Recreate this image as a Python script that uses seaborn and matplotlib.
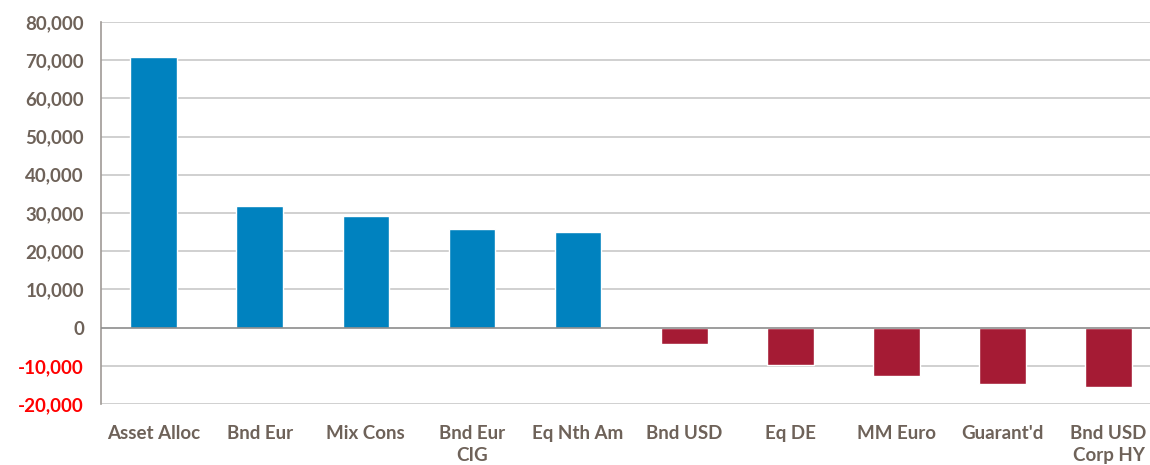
import matplotlib
matplotlib.use("Agg")
import matplotlib.pyplot as plt
import seaborn as sns
import pandas as pd
from matplotlib.ticker import FuncFormatter

categories = ["Asset Alloc", "Bnd Eur", "Mix Cons", "Bnd Eur\nCIG", "Eq Nth Am",
              "Bnd USD", "Eq DE", "MM Euro", "Guarant'd", "Bnd USD\nCorp HY"]
values = [70700, 31700, 29300, 25900, 25100, -4200, -9900, -12600, -14700, -15400]
yticks = [-20000, -10000, 0, 10000, 20000, 30000, 40000, 50000, 60000, 70000, 80000]

POS = "#0082bf"
NEG = "#a51b34"
TXT = "#6e6259"

sns.set_theme(style="white")
plt.rcParams["font.family"] = ["Lato", "DejaVu Sans"]

df = pd.DataFrame({"cat": categories, "val": values})
df["sign"] = ["pos" if v >= 0 else "neg" for v in values]

fig = plt.figure(figsize=(11.5, 4.65), dpi=100)
ax = fig.add_axes([0.0875, 0.131, 0.9226, 0.822])

sns.barplot(data=df, x="cat", y="val", hue="sign", palette={"pos": POS, "neg": NEG},
            width=0.44, dodge=False, legend=False, ax=ax, saturation=1)

ax.set_ylim(-20000, 80000)
ax.set_yticks(yticks)
ax.yaxis.set_major_formatter(FuncFormatter(lambda v, p: f"{int(v):,}"))
ax.set_xlim(-0.5, len(categories) - 0.5)
ax.set_xlabel("")
ax.set_ylabel("")

for y in yticks:
    if y == 0:
        continue
    ax.axhline(y, color="#c8c8c8", lw=1.2, zorder=0)
ax.axhline(0, color="#8c8c8c", lw=1.2, zorder=3)

for s in ["top", "right", "bottom"]:
    ax.spines[s].set_visible(False)
ax.spines["left"].set_color("#a09a96")
ax.spines["left"].set_linewidth(1.2)

ax.tick_params(axis="y", direction="out", length=6, width=1.2, color="#a09a96",
               labelsize=13.5, pad=6)
ax.tick_params(axis="x", length=0, labelsize=13.5, pad=15)

for lbl, v in zip(ax.get_yticklabels(), yticks):
    lbl.set_color("#ff0000" if v < 0 else TXT)
    lbl.set_fontweight("bold")
for lbl in ax.get_xticklabels():
    lbl.set_color(TXT)
    lbl.set_fontweight("bold")
    lbl.set_linespacing(1.38)
    lbl.set_verticalalignment("top")

fig.savefig("out.png", dpi=100)
